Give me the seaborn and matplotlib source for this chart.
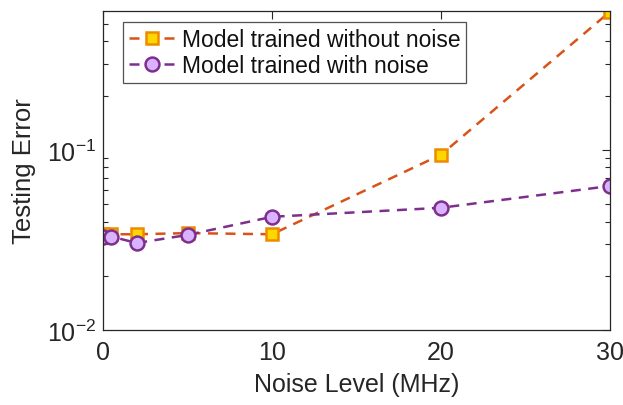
import numpy as np
import pandas as pd
import seaborn as sns
import matplotlib
matplotlib.use("Agg")
import matplotlib.pyplot as plt
from matplotlib.ticker import LogLocator, NullFormatter

noise_mhz = [0, 0.5, 2, 5, 10, 20, 30]
err_without_noise = [0.034, 0.034, 0.034, 0.0345, 0.034, 0.094, 0.585]
err_with_noise = [0.0329, 0.033, 0.0304, 0.0337, 0.0425, 0.0477, 0.063]
labels = ["Model trained without noise", "Model trained with noise"]

sns.set_theme(style="white")
plt.rcParams['font.family'] = ['Liberation Sans', 'DejaVu Sans']
plt.rcParams['mathtext.fontset'] = 'custom'
plt.rcParams['mathtext.rm'] = 'Liberation Sans'
plt.rcParams['mathtext.it'] = 'Liberation Sans'

df = pd.DataFrame({
    "x": noise_mhz * 2,
    "y": err_without_noise + err_with_noise,
    "model": [labels[0]] * len(noise_mhz) + [labels[1]] * len(noise_mhz),
})

fig = plt.figure(figsize=(6.23, 4.06), dpi=100)
ax = fig.add_axes([103/623, 1-331/406, (610-103)/623, (331-12)/406])

styles = {
    labels[0]: dict(color="#D95319", marker="s", mfc="#FFD700", mec="#EE8A00", ms=8),
    labels[1]: dict(color="#7E2F8E", marker="o", mfc="#D9B3FF", mec="#7E2F8E", ms=10),
}
for lab in labels:
    st = styles[lab]
    sub = df[df.model == lab]
    sns.lineplot(data=sub, x="x", y="y", ax=ax, color=st["color"], linestyle="--",
                 linewidth=1.8, marker=st["marker"], markersize=st["ms"],
                 markerfacecolor=st["mfc"], markeredgecolor=st["mec"],
                 markeredgewidth=1.8, label=lab, dashes=False)
    ax.lines[-1].set_dashes([4, 3])

ax.set_yscale("log")
ax.set_xlim(0, 30)
ax.set_ylim(0.01, 0.59)
ax.set_xticks([0, 10, 20, 30])
ax.yaxis.set_major_locator(LogLocator(base=10, numticks=10))
ax.yaxis.set_minor_locator(LogLocator(base=10, subs=np.arange(2, 10), numticks=10))
ax.yaxis.set_minor_formatter(NullFormatter())
ax.tick_params(axis="both", which="both", direction="in", top=True, right=True,
               labelsize=18, colors="#262626")
ax.tick_params(axis="both", which="major", length=6, width=0.8)
ax.tick_params(axis="y", which="minor", length=3.5, width=0.8, left=True, right=True)
ax.tick_params(axis="x", pad=7)
ax.tick_params(axis="y", pad=5)
for sp in ax.spines.values():
    sp.set_color("#262626")
    sp.set_linewidth(0.9)
ax.set_xlabel("Noise Level (MHz)", fontsize=18, color="#262626", labelpad=6)
ax.set_ylabel("Testing Error", fontsize=18.5, color="#262626", labelpad=8)

leg = ax.legend(loc="upper left", bbox_to_anchor=(0.04, 0.966), fontsize=16.5,
                frameon=True, fancybox=False, edgecolor="#262626",
                handlelength=2.0, handletextpad=0.3, borderpad=0.25,
                labelspacing=0.15, borderaxespad=0)
leg.get_frame().set_linewidth(0.9)
for t in leg.get_texts():
    t.set_color("#111111")

fig.savefig("out.png", dpi=100)
